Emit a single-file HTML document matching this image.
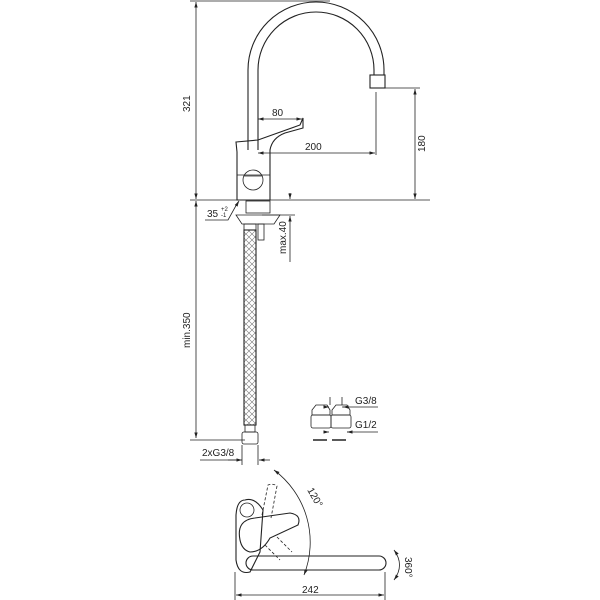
<!DOCTYPE html>
<html><head><style>html,body{margin:0;padding:0;background:#fff}svg{display:block}text{font-family:"Liberation Sans",sans-serif;font-size:10px;fill:#222}</style></head><body>
<svg width="600" height="600" viewBox="0 0 600 600" xmlns="http://www.w3.org/2000/svg">
<defs><marker id="a" viewBox="0 0 10 10" refX="10" refY="5" markerWidth="7" markerHeight="7" orient="auto-start-reverse"><path d="M0,2 L10,5 L0,8z" fill="#222"/></marker>
<pattern id="h" width="6" height="6" patternUnits="userSpaceOnUse"><path d="M0,0 L6,6 M6,0 L0,6" stroke="#777" stroke-width="0.6"/></pattern></defs>
<g stroke="#222" stroke-width="0.8" fill="none">
<line x1="190" y1="1" x2="330" y2="1"/>
<line x1="196" y1="2" x2="196" y2="199" marker-start="url(#a)" marker-end="url(#a)"/>
<line x1="190" y1="200" x2="430" y2="200"/>
<line x1="196" y1="201" x2="196" y2="438" marker-start="url(#a)" marker-end="url(#a)"/>
<line x1="190" y1="440" x2="245" y2="440"/>
<path d="M248,150 L248,70 A68,68 0 0 1 384,70 L384,75" stroke-width="1.1"/>
<path d="M258,150 L258,70 A58,58 0 0 1 374,70 L374,75" stroke-width="1.1"/>
<rect x="370" y="75" width="15" height="13" stroke-width="1.1"/>
<line x1="385" y1="88" x2="420" y2="88"/>
<line x1="415" y1="89" x2="415" y2="199" marker-start="url(#a)" marker-end="url(#a)"/>
<line x1="376" y1="92" x2="376" y2="155"/>
<line x1="258" y1="153" x2="375" y2="153" marker-start="url(#a)" marker-end="url(#a)"/>
<line x1="258" y1="119" x2="302" y2="119" marker-start="url(#a)" marker-end="url(#a)"/>
<path d="M236,142 L258,140 L300,125 L303,118 L303,128 L285,133 Q272,138 270,150 L270,200 L237,200 L237,152 L236,142z" stroke-width="1.1"/>
<line x1="237" y1="175" x2="270" y2="175"/>
<ellipse cx="253" cy="180" rx="10" ry="10"/>
<line x1="244" y1="176" x2="262" y2="176"/>
<rect x="246" y="201" width="24" height="12"/>
<path d="M236,215 L280,215 L274,224 L242,224z"/>
<rect x="244" y="224" width="12" height="6"/>
<rect x="258" y="224" width="6" height="16"/>
<rect x="244" y="230" width="12" height="195" stroke-width="1.1" fill="url(#h)"/>
<rect x="245" y="425" width="10" height="7"/>
<rect x="242" y="432" width="16" height="12" rx="2"/>
<line x1="242" y1="445" x2="242" y2="465"/><line x1="258" y1="445" x2="258" y2="465"/>
<line x1="200" y1="460" x2="241" y2="460"/>
<line x1="228" y1="460" x2="242" y2="460" marker-end="url(#a)"/>
<line x1="270" y1="460" x2="259" y2="460" marker-end="url(#a)"/>
<line x1="262" y1="215" x2="295" y2="215"/>
<line x1="290" y1="193" x2="290" y2="199" marker-end="url(#a)"/>
<line x1="290" y1="230" x2="290" y2="216" marker-end="url(#a)"/>
<line x1="290" y1="230" x2="290" y2="262"/>
<path d="M205,220 L228,220 L238,202" /><line x1="236" y1="206" x2="239" y2="201" marker-end="url(#a)"/>
<path d="M312,415 L312,410 L316,405 L327,405 L330,410 L330,415z"/>
<rect x="311" y="415" width="20" height="13" rx="2"/>
<path d="M332,415 L332,410 L336,405 L347,405 L350,410 L350,415z"/>
<rect x="331" y="415" width="20" height="13" rx="2"/>
<line x1="313" y1="440" x2="327" y2="440" stroke-width="1.5"/><line x1="332" y1="440" x2="346" y2="440" stroke-width="1.5"/>
<line x1="330" y1="405" x2="330" y2="397"/><line x1="342" y1="405" x2="342" y2="397"/>
<line x1="325" y1="407" x2="329" y2="407" marker-end="url(#a)"/><line x1="347" y1="407" x2="343" y2="407" marker-end="url(#a)"/>
<line x1="342" y1="407" x2="378" y2="407"/>
<line x1="325" y1="432" x2="329" y2="432" marker-end="url(#a)"/><line x1="352" y1="432" x2="347" y2="432" marker-end="url(#a)"/>
<line x1="347" y1="432" x2="378" y2="432"/>
<path d="M245,500 Q237,500 236,515 L236,560 Q238,575 250,572 L260,552 L263,510 Q255,497 245,500z" stroke-width="1.1"/>
<circle cx="247" cy="510" r="7"/>
<path d="M240,540 Q236,520 255,518 L290,513 Q302,515 298,525 L270,538 Q262,552 250,552 Q242,550 240,540z" stroke-width="1.1"/>
<rect x="246" y="556" width="140" height="14" rx="7" stroke-width="1.1"/>
<path d="M265,545 L280,560 M277,537 L292,552" stroke-dasharray="3,2"/>
<path d="M262,515 L268,485 Q273,483 277,486 L271,518" stroke-dasharray="3,2"/>
<path d="M274,470 A90,90 0 0 1 304,575" marker-start="url(#a)" marker-end="url(#a)"/>
<path d="M394,550 Q405,565 394,580" marker-start="url(#a)" marker-end="url(#a)"/>
<line x1="235" y1="572" x2="235" y2="600"/><line x1="385" y1="572" x2="385" y2="600"/>
<line x1="236" y1="595" x2="384" y2="595" marker-start="url(#a)" marker-end="url(#a)"/>
</g>
<text transform="translate(190,112) rotate(-90)">321</text>
<text transform="translate(190,348) rotate(-90)">min.350</text>
<text transform="translate(286,254) rotate(-90)">max.40</text>
<text transform="translate(425,152) rotate(-90)">180</text>
<text x="272" y="116">80</text>
<text x="305" y="150">200</text>
<text x="207" y="217">35</text><text x="221" y="211" style="font-size:6px">+2</text><text x="221" y="217" style="font-size:6px">-1</text>
<text x="202" y="456">2xG3/8</text>
<text x="355" y="404">G3/8</text>
<text x="355" y="428">G1/2</text>
<text transform="translate(307,490) rotate(60)">120°</text>
<text transform="translate(405,557) rotate(90)">360°</text>
<text x="302" y="593">242</text>
</svg>
</body></html>
